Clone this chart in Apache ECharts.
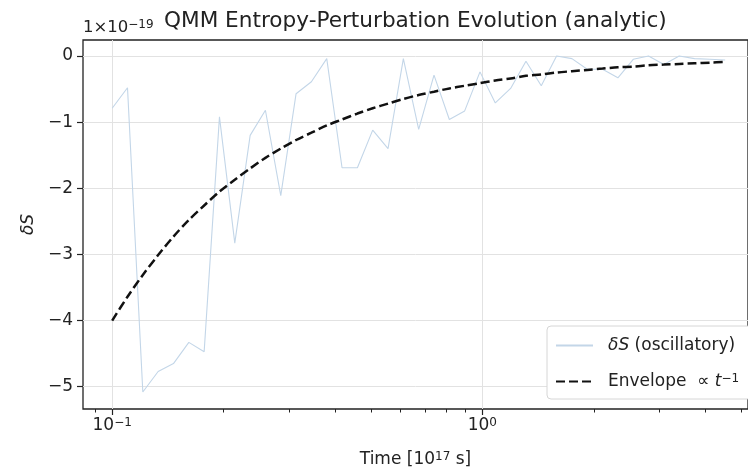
<!DOCTYPE html>
<html>
<head>
<meta charset="utf-8">
<script src="https://cdn.jsdelivr.net/npm/echarts@6/dist/echarts.min.js"></script>
<style>
  html, body { margin: 0; padding: 0; background: #fff; }
  #chart { width: 748px; height: 475px; }
</style>
</head>
<body>
<div id="chart"></div>
<script>
// time samples (units of 1e17 s), log spaced
const timeVals = [
  0.1, 0.110, 0.121, 0.1331, 0.1464, 0.1611, 0.1772, 0.1949, 0.2144, 0.2359,
  0.2594, 0.2854, 0.3139, 0.3453, 0.3799, 0.4178, 0.4597, 0.5056, 0.5562, 0.6118,
  0.6730, 0.7403, 0.8144, 0.8959, 0.9854, 1.0839, 1.1923, 1.3116, 1.4428, 1.5871,
  1.7458, 1.9204, 2.1125, 2.3238, 2.5562, 2.8119, 3.0930, 3.4024, 3.7427, 4.1170,
  4.5290
];
// dS oscillatory, units of 1e-19
const oscVals = [
  -0.79, -0.48, -5.08, -4.77, -4.65, -4.33, -4.47, -0.92, -2.83, -1.20,
  -0.82, -2.11, -0.57, -0.39, -0.04, -1.69, -1.69, -1.12, -1.40, -0.04,
  -1.11, -0.29, -0.96, -0.83, -0.24, -0.71, -0.49, -0.08, -0.45, 0.00,
  -0.04, -0.20, -0.20, -0.33, -0.05, 0.00, -0.13, 0.00, -0.04, -0.05,
  -0.06
];
// envelope ~ 1/t
const envVals = [
  -4.00, -3.64, -3.31, -3.01, -2.73, -2.48, -2.26, -2.05, -1.87, -1.70,
  -1.54, -1.40, -1.27, -1.16, -1.05, -0.96, -0.87, -0.79, -0.72, -0.65,
  -0.59, -0.54, -0.49, -0.45, -0.41, -0.37, -0.34, -0.30, -0.28, -0.25,
  -0.23, -0.21, -0.19, -0.17, -0.16, -0.14, -0.13, -0.12, -0.11, -0.10,
  -0.09
];
const xMajorTicks = [0.1, 1];
const xMinorTicks = [0.09, 0.2, 0.3, 0.4, 0.5, 0.6, 0.7, 0.8, 0.9, 2, 3, 4, 5];
const yTicks = [-5, -4, -3, -2, -1, 0];

const font = 'DejaVu Sans';
const ink = '#222';

const chart = echarts.init(document.getElementById('chart'));

const option = {
  animation: false,
  backgroundColor: '#fff',
  textStyle: { fontFamily: font },
  title: [
    {
      text: '1×10{s|−19}',
      left: 78, top: 14,
      textStyle: {
        fontFamily: font, fontSize: 16.5, fontWeight: 'normal', color: ink,
        rich: { s: { fontFamily: font, fontSize: 12, verticalAlign: 'top', color: ink } }
      }
    },
    {
      text: 'QMM Entropy-Perturbation Evolution (analytic)',
      left: 159, top: 5,
      textStyle: { fontFamily: font, fontSize: 21.6, fontWeight: 'normal', color: ink }
    }
  ],
  grid: {
    left: 83, top: 40, right: -3, bottom: 66,
    show: true, borderColor: '#222', borderWidth: 1.3, backgroundColor: 'transparent'
  },
  legend: {
    orient: 'vertical',
    left: 547, top: 326,
    padding: [11, 12, 9, 8],
    itemGap: 19,
    itemWidth: 37, itemHeight: 14,
    backgroundColor: '#fff',
    borderColor: '#d6d6d6', borderWidth: 1, borderRadius: 4,
    itemStyle: { opacity: 0 },
    textStyle: {
      fontFamily: font, fontSize: 17, color: ink,
      rich: {
        i: { fontFamily: font, fontSize: 17, fontStyle: 'italic', color: ink },
        p: { fontFamily: font, fontSize: 17, fontStyle: 'italic', color: ink, padding: [0, 0, 0, 10] },
        n: { fontFamily: font, fontSize: 17, color: ink },
        q: { fontFamily: font, fontSize: 17, color: ink, padding: [0, 0, 0, 10] },
        s: { fontFamily: font, fontSize: 12, verticalAlign: 'top', color: ink }
      }
    },
    formatter: function (name) {
      if (name === 'osc') return '{p|δS} (oscillatory)';
      return '{q|Envelope  ∝ }{i|t}{s|−1}';
    },
    data: ['osc', 'env']
  },
  xAxis: [
    {
      type: 'log', logBase: 10, min: 0.0834, max: 5.22,
      axisLine: { show: false, onZero: false },
      axisTick: { customValues: xMajorTicks, length: 6, lineStyle: { color: ink, width: 1.2 } },
      axisLabel: {
        customValues: xMajorTicks, margin: 8,
        fontFamily: font, fontSize: 17, color: ink,
        formatter: function (v) {
          return '10{s|' + String(Math.round(Math.log10(v))).replace('-', '−') + '}';
        },
        rich: { s: { fontFamily: font, fontSize: 12, verticalAlign: 'top', color: ink } }
      },
      splitLine: { show: true, lineStyle: { color: '#e2e2e2', width: 1 } },
      name: 'Time [10{s|17} s]',
      nameLocation: 'middle', nameGap: 42,
      nameTextStyle: {
        fontFamily: font, fontSize: 17, color: ink,
        rich: { s: { fontFamily: font, fontSize: 12, verticalAlign: 'top', color: ink } }
      }
    },
    {
      type: 'log', logBase: 10, min: 0.0834, max: 5.22,
      position: 'bottom',
      axisLine: { show: false, onZero: false },
      axisLabel: { show: false },
      splitLine: { show: false },
      axisTick: { customValues: xMinorTicks, length: 3.5, lineStyle: { color: ink, width: 1 } }
    }
  ],
  yAxis: {
    type: 'value', min: -5.337, max: 0.242,
    axisLine: { show: false, onZero: false },
    axisTick: { customValues: yTicks, length: 6, lineStyle: { color: ink, width: 1.2 } },
    axisLabel: {
      customValues: yTicks, margin: 10,
      fontFamily: font, fontSize: 17, color: ink,
      formatter: function (v) { return v < 0 ? '−' + Math.abs(v) : String(v); }
    },
    splitLine: { show: true, lineStyle: { color: '#e2e2e2', width: 1 } },
    name: 'δS',
    nameLocation: 'middle', nameRotate: 90, nameGap: 44,
    nameTextStyle: { fontFamily: font, fontSize: 17, fontStyle: 'italic', color: ink }
  },
  series: [
    {
      name: 'osc', type: 'line', xAxisIndex: 0,
      data: timeVals.map((t, i) => [t, oscVals[i]]),
      symbol: 'none',
      lineStyle: { color: '#c3d6e8', width: 1.1 },
      itemStyle: { color: '#c3d6e8' },
      z: 2
    },
    {
      name: 'env', type: 'line', xAxisIndex: 0,
      data: timeVals.map((t, i) => [t, envVals[i]]),
      symbol: 'none', smooth: 0.3,
      lineStyle: { color: '#111', width: 2.5, type: [9, 4] },
      itemStyle: { color: '#111' },
      z: 3
    }
  ]
};

chart.setOption(option);
</script>
</body>
</html>
